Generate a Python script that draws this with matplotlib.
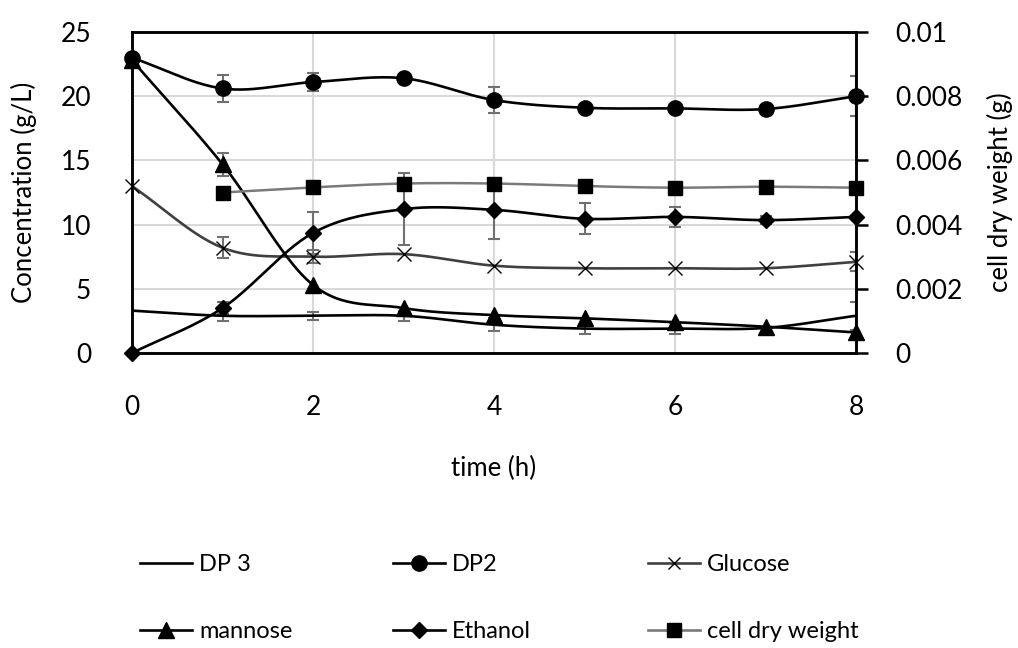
import numpy as np
import matplotlib.pyplot as plt
from matplotlib.lines import Line2D

plt.rcParams['font.family'] = ['Lato', 'DejaVu Sans']
plt.rcParams['font.size'] = 19

# 发酵过程数据
time_h = [0, 1, 2, 3, 4, 5, 6, 7, 8]
dp3 = [3.3, 2.9, 2.9, 2.9, 2.2, 1.9, 1.9, 1.95, 2.9]
dp3_err = [0, 0.4, 0.3, 0.4, 0.5, 0.4, 0.4, 0, 1.1]
dp2 = [23.0, 20.6, 21.1, 21.4, 19.7, 19.1, 19.05, 19.0, 20.0]
dp2_err = [0, 1.05, 0.7, 0, 1.0, 0, 0, 0, 1.55]
glucose = [13.0, 8.2, 7.5, 7.7, 6.8, 6.6, 6.6, 6.6, 7.1]
glucose_err = [0, 0.8, 0.5, 0, 0, 0, 0, 0, 0.75]
mannose = [22.8, 14.7, 5.3, 3.5, 2.95, 2.7, 2.4, 2.05, 1.6]
mannose_err = [0, 0.9, 0, 0, 0, 0, 0, 0, 0]
ethanol = [0, 3.5, 9.35, 11.2, 11.15, 10.45, 10.6, 10.35, 10.6]
ethanol_err = [0, 0.5, 1.65, 2.8, 2.3, 1.2, 0.8, 0.3, 0]
cdw_time = [1, 2, 3, 4, 5, 6, 7, 8]
cell_dry_weight = [0.0050, 0.00516, 0.00528, 0.00528, 0.0052, 0.00515, 0.00518, 0.00515]

left_ticks = [0, 5, 10, 15, 20, 25]
right_ticks = [0, 0.002, 0.004, 0.006, 0.008, 0.01]
right_labels = ['0', '0.002', '0.004', '0.006', '0.008', '0.01']

err_color = '#707070'


# 平滑曲线(Catmull-Rom)
def smooth(x, y, n=30):
    x = np.asarray(x, float)
    y = np.asarray(y, float)
    px = np.concatenate([[2 * x[0] - x[1]], x, [2 * x[-1] - x[-2]]])
    py = np.concatenate([[2 * y[0] - y[1]], y, [2 * y[-1] - y[-2]]])
    xs, ys = [], []
    t = np.linspace(0, 1, n)
    for i in range(1, len(px) - 2):
        for arr, out in ((px, xs), (py, ys)):
            p0, p1, p2, p3 = arr[i - 1], arr[i], arr[i + 1], arr[i + 2]
            c1 = p1 + (p2 - p0) / 6
            c2 = p2 - (p3 - p1) / 6
            out.append((1 - t) ** 3 * p1 + 3 * (1 - t) ** 2 * t * c1
                       + 3 * (1 - t) * t ** 2 * c2 + t ** 3 * p2)
    return np.concatenate(xs), np.concatenate(ys)


def series(ax, x, y, err, color, marker, ms, lw=1.9):
    sx, sy = smooth(x, y)
    ax.plot(sx, sy, color=color, lw=lw, zorder=3)
    if err is not None:
        e = np.asarray(err, float)
        m = e > 0
        ax.errorbar(np.asarray(x)[m], np.asarray(y)[m], yerr=e[m], fmt='none',
                    ecolor=err_color, elinewidth=1.5, capsize=4.5, capthick=1.5, zorder=2)
    if marker:
        ax.plot(x, y, linestyle='none', marker=marker, color='black',
                markersize=ms, zorder=4, clip_on=False)


fig = plt.figure(figsize=(10.18, 6.48), dpi=100, facecolor='white')
ax = fig.add_axes([132 / 1018, 1 - 353 / 648, (856 - 132) / 1018, (353 - 32) / 648])
ax2 = ax.twinx()

series(ax, time_h, dp3, dp3_err, 'black', None, 0)
series(ax, time_h, dp2, dp2_err, 'black', 'o', 11)
series(ax, time_h, glucose, glucose_err, '#404040', 'x', 10)
series(ax, time_h, mannose, mannose_err, 'black', '^', 11)
series(ax, time_h, ethanol, ethanol_err, 'black', 'D', 8)
series(ax2, cdw_time, cell_dry_weight, None, '#7a7a7a', 's', 10.5, lw=1.8)

ax.set_xlim(0, 8)
ax.set_ylim(0, 25)
ax2.set_ylim(0, 0.01)
ax.set_xticks([0, 2, 4, 6, 8])
ax.set_yticks(left_ticks)
ax2.set_yticks(right_ticks)
ax2.set_yticklabels(right_labels)
ax.grid(True, color='#d9d9d9', lw=1.5)
ax.set_axisbelow(True)

for a in (ax, ax2):
    for s in a.spines.values():
        s.set_linewidth(1.8)
        s.set_color('black')

ax.tick_params(axis='y', length=0, pad=29.5)
ax.tick_params(axis='x', length=0, pad=30)
ax2.tick_params(axis='y', direction='out', length=8.6, width=1.8, pad=19.5)

ax.set_xlabel('time (h)', fontsize=18.5, labelpad=26)
ax.set_ylabel('Concentration (g/L)', fontsize=18.5)
ax2.set_ylabel('cell dry weight (g)', fontsize=18.5)
ax.yaxis.set_label_coords(-0.131, 0.5)
ax2.yaxis.set_label_coords(1.181, 0.5)

# 图例: 三列两行
def handle(marker, color, ms):
    return Line2D([], [], color=color, lw=1.9, marker=marker, markersize=ms,
                  markerfacecolor='black', markeredgecolor='black')

columns = [
    ([handle(None, 'black', 0), handle('^', 'black', 11)], ['DP 3', 'mannose'], 140),
    ([handle('o', 'black', 11), handle('D', 'black', 8)], ['DP2', 'Ethanol'], 393),
    ([handle('x', '#404040', 9), handle('s', '#7a7a7a', 9.5)], ['Glucose', 'cell dry weight'], 648),
]
for hs, labels, xpix in columns:
    fig.legend(hs, labels, loc='upper left', bbox_to_anchor=(xpix / 1018, 1 - 554 / 648),
               frameon=False, borderpad=0, borderaxespad=0, handlelength=2.2,
               handletextpad=0.3, labelspacing=1.95, fontsize=17)

fig.savefig('out.png', dpi=100)
